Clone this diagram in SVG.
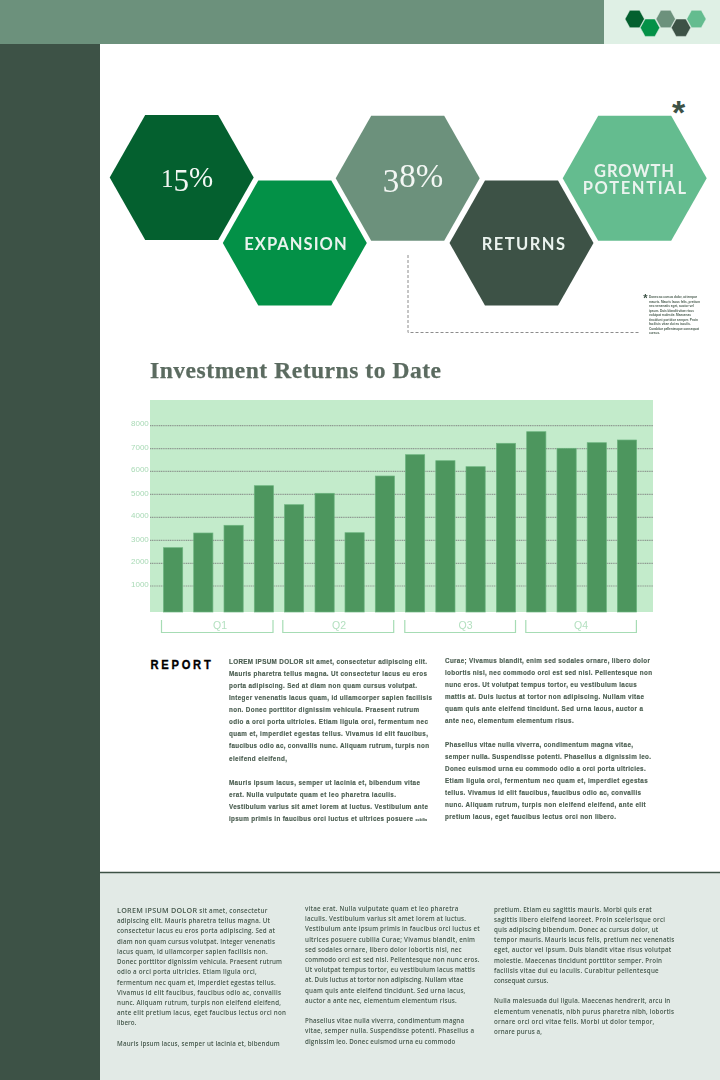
<svg xmlns="http://www.w3.org/2000/svg" width="720" height="1080" viewBox="0 0 720 1080">
<style>
.lab{font-family:"Lato","Noto Sans",sans-serif;font-weight:700;font-size:16.5px;fill:#eaf3ee}
.num{font-family:"Liberation Serif",serif;font-size:35px;fill:#f3f7f4}
.b{font-family:"Liberation Sans",Arial,sans-serif;font-weight:700;font-size:6.3px;fill:#4a5d50;stroke:#4a5d50;stroke-width:.15}
.f{font-family:"Open Sans","Noto Sans",sans-serif;font-weight:600;font-size:6.2px;fill:#46594d}
.n{font-family:"Liberation Sans",Arial,sans-serif;font-weight:700;font-size:3.2px;fill:#4a5d50}
.y{font-family:"Liberation Sans",Arial,sans-serif;font-size:8px;fill:#a9dab6}
.q{font-family:"Liberation Sans",Arial,sans-serif;font-size:10.5px;fill:#b4e0c0;text-anchor:middle}
.bar{fill:#4d965e;stroke:#6cb47f;stroke-width:.7}
.grid{stroke:#8f9a92;stroke-width:1.2;stroke-dasharray:1.2 .6;fill:none}
.br{stroke:#a6dcb4;stroke-width:1.2;fill:none}
.soft{filter:url(#soft)}
</style>
<defs>
<filter id="soft" x="-5%" y="-5%" width="110%" height="110%" color-interpolation-filters="sRGB"><feGaussianBlur stdDeviation=".28"/></filter>
<polygon id="hex" points="-72,0 -36.5,-62.5 36.5,-62.5 72,0 36.5,62.5 -36.5,62.5"/>
<polygon id="mini" points="-9.7,0 -4.9,-8.7 4.9,-8.7 9.7,0 4.9,8.7 -4.9,8.7" stroke="#e6f3ea" stroke-width=".5"/>
</defs>
<rect width="720" height="1080" fill="#ffffff"/>
<rect id="topbar" x="0" y="0" width="604" height="44" fill="#6c917c"/>
<rect id="topcorner" x="604" y="0" width="116" height="44" fill="#dff0e5"/>
<rect id="sidebar" x="0" y="44" width="100" height="1036" fill="#3d5246"/>
<rect id="footer" x="100" y="872" width="620" height="208" fill="#e2eae6"/>
<line x1="100" y1="872.5" x2="720" y2="872.5" stroke="#3d5246" stroke-width="1.5"/>
<g id="logo">
<use href="#mini" x="634.7" y="19" fill="#04602f"/>
<use href="#mini" x="650" y="27.7" fill="#039147"/>
<use href="#mini" x="665.7" y="19" fill="#6c917c"/>
<use href="#mini" x="681" y="27.7" fill="#3d5246"/>
<use href="#mini" x="696.4" y="19" fill="#64bc8f"/>
</g>
<g id="connectors">
<path d="M408 255V332.5H639" fill="none" stroke="#8c8c8c" stroke-width="1" stroke-dasharray="3 2"/>
</g>
<g id="hex-15"><use href="#hex" x="181.7" y="177.5" fill="#04602f"/><text class="num soft" x="161" y="186.5"><tspan font-size="25">1</tspan><tspan font-size="31" dy="4.5">5</tspan><tspan font-size="29" dy="-4.5">%</tspan></text></g>
<g id="hex-expansion"><use href="#hex" x="294.8" y="243" fill="#039147"/><text class="lab soft" x="244.3" y="250" textLength="102.4">EXPANSION</text></g>
<g id="hex-38"><use href="#hex" x="407.7" y="178.3" fill="#6c917c"/><text class="num soft" x="382.7" y="187"><tspan font-size="33" dy="4.5">3</tspan><tspan font-size="33" dy="-4.5">8</tspan><tspan font-size="33">%</tspan></text></g>
<g id="hex-returns"><use href="#hex" x="521.5" y="243" fill="#3d5246"/><text class="lab soft" x="481.7" y="250" textLength="83.3">RETURNS</text></g>
<g id="hex-growth"><use href="#hex" x="634.7" y="178.3" fill="#64bc8f"/><text class="lab soft"><tspan x="594" y="177.3" textLength="80">GROWTH</tspan><tspan x="582.7" y="194.3" textLength="103.3">POTENTIAL</tspan></text></g>
<text x="678.5" y="124" font-family="Liberation Sans,Arial,sans-serif" font-weight="700" font-size="34" fill="#3d5246" text-anchor="middle">*</text>
<g id="footnote" class="soft">
<text x="645.3" y="302" font-family="Liberation Sans,Arial,sans-serif" font-weight="700" font-size="11" fill="#3d5246" text-anchor="middle">*</text>
<text class="n" x="649" y="298" textLength="48">Donec ac cursus dolor, ut tempor</text>
<text class="n" x="649" y="302.5" textLength="51">mauris. Mauris lacus felis, pretium</text>
<text class="n" x="649" y="307" textLength="45">nec venenatis eget, auctor vel</text>
<text class="n" x="649" y="311.6" textLength="45">ipsum. Duis blandit vitae risus</text>
<text class="n" x="649" y="316.1" textLength="42">volutpat molestie. Maecenas</text>
<text class="n" x="649" y="320.7" textLength="49">tincidunt porttitor semper. Proin</text>
<text class="n" x="649" y="325.2" textLength="42">facilisis vitae dui eu iaculis.</text>
<text class="n" x="649" y="329.8" textLength="50">Curabitur pellentesque consequat</text>
<text class="n" x="649" y="334.3" textLength="11">cursus.</text>
</g>
<text id="title" class="soft" x="150" y="378" font-family="Liberation Serif,serif" font-weight="700" font-size="23.5" fill="#5b6b60" stroke="#5b6b60" stroke-width=".25" textLength="291">Investment Returns to Date</text>
<g id="chart">
<rect x="150" y="400" width="503" height="212" fill="#c3ebcb"/>
<path class="grid" d="M150 425.7H653M150 448.7H653M150 471.4H653M150 494.4H653M150 517.4H653M150 540.4H653M150 563.3H653M150 586H653"/>
<g class="soft"><text class="y" x="131" y="426">8000</text><text class="y" x="131" y="449.5">7000</text><text class="y" x="131" y="472">6000</text><text class="y" x="131" y="496">5000</text><text class="y" x="131" y="518">4000</text><text class="y" x="131" y="542">3000</text><text class="y" x="131" y="564">2000</text><text class="y" x="131" y="586.5">1000</text></g>
<rect class="bar" x="163.5" y="547.7" width="19.2" height="64.3"/>
<rect class="bar" x="193.7" y="533" width="19.2" height="79"/>
<rect class="bar" x="224" y="525.3" width="19.2" height="86.7"/>
<rect class="bar" x="254.3" y="485.7" width="19.2" height="126.3"/>
<rect class="bar" x="284.5" y="504.7" width="19.2" height="107.3"/>
<rect class="bar" x="315" y="493.3" width="19.2" height="118.7"/>
<rect class="bar" x="345" y="532.7" width="19.2" height="79.3"/>
<rect class="bar" x="375.3" y="476" width="19.2" height="136"/>
<rect class="bar" x="405.5" y="454.7" width="19.2" height="157.3"/>
<rect class="bar" x="435.8" y="460.7" width="19.2" height="151.3"/>
<rect class="bar" x="466" y="466.7" width="19.2" height="145.3"/>
<rect class="bar" x="496.4" y="443.3" width="19.2" height="168.7"/>
<rect class="bar" x="526.7" y="431.7" width="19.2" height="180.3"/>
<rect class="bar" x="557" y="448.3" width="19.2" height="163.7"/>
<rect class="bar" x="587.2" y="442.7" width="19.2" height="169.3"/>
<rect class="bar" x="617.4" y="440" width="19.2" height="172"/>
<path class="br" d="M161.5 620V632.5H273V620M282.8 620V632.5H393.7V620M404.8 620V632.5H515.5V620M525.8 620V632.5H636.4V620"/>
<g class="soft"><text class="q" x="220" y="629">Q1</text><text class="q" x="339" y="629">Q2</text><text class="q" x="465.5" y="629">Q3</text><text class="q" x="581" y="629">Q4</text></g>
</g>
<text id="report" x="150.5" y="668.8" font-family="Liberation Sans,Arial,sans-serif" font-weight="700" font-size="13" letter-spacing="3.2" fill="#000" stroke="#000" stroke-width=".35" textLength="63" lengthAdjust="spacingAndGlyphs">REPORT</text>
<g id="report-col1" class="soft">
<text class="b" x="229" y="664" textLength="198">LOREM IPSUM DOLOR sit amet, consectetur adipiscing elit.</text>
<text class="b" x="229" y="676" textLength="198">Mauris pharetra tellus magna. Ut consectetur lacus eu eros</text>
<text class="b" x="229" y="688" textLength="188">porta adipiscing. Sed at diam non quam cursus volutpat.</text>
<text class="b" x="229" y="700.2" textLength="203">Integer venenatis lacus quam, id ullamcorper sapien facilisis</text>
<text class="b" x="229" y="712.2" textLength="190">non. Donec porttitor dignissim vehicula. Praesent rutrum</text>
<text class="b" x="229" y="724.3" textLength="199">odio a orci porta ultricies. Etiam ligula orci, fermentum nec</text>
<text class="b" x="229" y="736.4" textLength="199">quam et, imperdiet egestas tellus. Vivamus id elit faucibus,</text>
<text class="b" x="229" y="748.4" textLength="200">faucibus odio ac, convallis nunc. Aliquam rutrum, turpis non</text>
<text class="b" x="229" y="760.5" textLength="58">eleifend eleifend,</text>
<text class="b" x="229" y="784.6" textLength="191">Mauris ipsum lacus, semper ut lacinia et, bibendum vitae</text>
<text class="b" x="229" y="796.7" textLength="167">erat. Nulla vulputate quam et leo pharetra iaculis.</text>
<text class="b" x="229" y="808.8" textLength="199">Vestibulum varius sit amet lorem at luctus. Vestibulum ante</text>
<text class="b" x="229" y="820.9" textLength="198">ipsum primis in faucibus orci luctus et ultrices posuere <tspan font-size="3">cubilia</tspan></text>
</g>
<g id="report-col2" class="soft">
<text class="b" x="445" y="662.5" textLength="205">Curae; Vivamus blandit, enim sed sodales ornare, libero dolor</text>
<text class="b" x="445" y="674.5" textLength="207">lobortis nisl, nec commodo orci est sed nisl. Pellentesque non</text>
<text class="b" x="445" y="686.6" textLength="191.7">nunc eros. Ut volutpat tempus tortor, eu vestibulum lacus</text>
<text class="b" x="445" y="698.7" textLength="199">mattis at. Duis luctus at tortor non adipiscing. Nullam vitae</text>
<text class="b" x="445" y="710.7" textLength="198">quam quis ante eleifend tincidunt. Sed urna lacus, auctor a</text>
<text class="b" x="445" y="722.8" textLength="128.7">ante nec, elementum elementum risus.</text>
<text class="b" x="445" y="746.9" textLength="188">Phasellus vitae nulla viverra, condimentum magna vitae,</text>
<text class="b" x="445" y="759" textLength="206">semper nulla. Suspendisse potenti. Phasellus a dignissim leo.</text>
<text class="b" x="445" y="771" textLength="200.7">Donec euismod urna eu commodo odio a orci porta ultricies.</text>
<text class="b" x="445" y="783.1" textLength="202.7">Etiam ligula orci, fermentum nec quam et, imperdiet egestas</text>
<text class="b" x="445" y="795.2" textLength="196">tellus. Vivamus id elit faucibus, faucibus odio ac, convallis</text>
<text class="b" x="445" y="807.2" textLength="200.7">nunc. Aliquam rutrum, turpis non eleifend eleifend, ante elit</text>
<text class="b" x="445" y="819.3" textLength="171">pretium lacus, eget faucibus lectus orci non libero.</text>
</g>
<g id="footer-col1" class="soft">
<text class="f" x="117" y="913"><tspan font-size="7.2" textLength="80">LOREM IPSUM DOLOR</tspan></text>
<text class="f" x="199.3" y="913" textLength="68">sit amet, consectetur</text>
<text class="f" x="117" y="923.2" textLength="153">adipiscing elit. Mauris pharetra tellus magna. Ut</text>
<text class="f" x="117" y="933.4" textLength="158">consectetur lacus eu eros porta adipiscing. Sed at</text>
<text class="f" x="117" y="943.7" textLength="158">diam non quam cursus volutpat. Integer venenatis</text>
<text class="f" x="117" y="953.9" textLength="150.7">lacus quam, id ullamcorper sapien facilisis non.</text>
<text class="f" x="117" y="964.1" textLength="165">Donec porttitor dignissim vehicula. Praesent rutrum</text>
<text class="f" x="117" y="974.3" textLength="139.7">odio a orci porta ultricies. Etiam ligula orci,</text>
<text class="f" x="117" y="984.5" textLength="158.7">fermentum nec quam et, imperdiet egestas tellus.</text>
<text class="f" x="117" y="994.7" textLength="164">Vivamus id elit faucibus, faucibus odio ac, convallis</text>
<text class="f" x="117" y="1004.9" textLength="164">nunc. Aliquam rutrum, turpis non eleifend eleifend,</text>
<text class="f" x="117" y="1015.1" textLength="169">ante elit pretium lacus, eget faucibus lectus orci non</text>
<text class="f" x="117" y="1025.3" textLength="19.3">libero.</text>
<text class="f" x="117" y="1045.7" textLength="162.7">Mauris ipsum lacus, semper ut lacinia et, bibendum</text>
</g>
<g id="footer-col2" class="soft">
<text class="f" x="305" y="911" textLength="153.3">vitae erat. Nulla vulputate quam et leo pharetra</text>
<text class="f" x="305" y="921.2" textLength="161">iaculis. Vestibulum varius sit amet lorem at luctus.</text>
<text class="f" x="305" y="931.4" textLength="174.7">Vestibulum ante ipsum primis in faucibus orci luctus et</text>
<text class="f" x="305" y="941.6" textLength="170">ultrices posuere cubilia Curae; Vivamus blandit, enim</text>
<text class="f" x="305" y="951.8" textLength="156.7">sed sodales ornare, libero dolor lobortis nisl, nec</text>
<text class="f" x="305" y="962" textLength="174.3">commodo orci est sed nisl. Pellentesque non nunc eros.</text>
<text class="f" x="305" y="972.2" textLength="170">Ut volutpat tempus tortor, eu vestibulum lacus mattis</text>
<text class="f" x="305" y="982.4" textLength="158.3">at. Duis luctus at tortor non adipiscing. Nullam vitae</text>
<text class="f" x="305" y="992.6" textLength="160.3">quam quis ante eleifend tincidunt. Sed urna lacus,</text>
<text class="f" x="305" y="1002.8" textLength="151.7">auctor a ante nec, elementum elementum risus.</text>
<text class="f" x="305" y="1023.2" textLength="159">Phasellus vitae nulla viverra, condimentum magna</text>
<text class="f" x="305" y="1033.4" textLength="169">vitae, semper nulla. Suspendisse potenti. Phasellus a</text>
<text class="f" x="305" y="1043.6" textLength="150.3">dignissim leo. Donec euismod urna eu commodo</text>
</g>
<g id="footer-col3" class="soft">
<text class="f" x="494" y="911.5" textLength="157.7">pretium. Etiam eu sagittis mauris. Morbi quis erat</text>
<text class="f" x="494" y="921.7" textLength="171">sagittis libero eleifend laoreet. Proin scelerisque orci</text>
<text class="f" x="494" y="931.9" textLength="164.3">quis adipiscing bibendum. Donec ac cursus dolor, ut</text>
<text class="f" x="494" y="942.1" textLength="180.3">tempor mauris. Mauris lacus felis, pretium nec venenatis</text>
<text class="f" x="494" y="952.3" textLength="177.3">eget, auctor vel ipsum. Duis blandit vitae risus volutpat</text>
<text class="f" x="494" y="962.5" textLength="168">molestie. Maecenas tincidunt porttitor semper. Proin</text>
<text class="f" x="494" y="972.7" textLength="164.7">facilisis vitae dui eu iaculis. Curabitur pellentesque</text>
<text class="f" x="494" y="982.9" textLength="54.3">consequat cursus.</text>
<text class="f" x="494" y="1003.3" textLength="176.3">Nulla malesuada dui ligula. Maecenas hendrerit, arcu in</text>
<text class="f" x="494" y="1013.5" textLength="180">elementum venenatis, nibh purus pharetra nibh, lobortis</text>
<text class="f" x="494" y="1023.7" textLength="160.3">ornare orci orci vitae felis. Morbi ut dolor tempor,</text>
<text class="f" x="494" y="1033.9" textLength="48">ornare purus a,</text>
</g>
</svg>
